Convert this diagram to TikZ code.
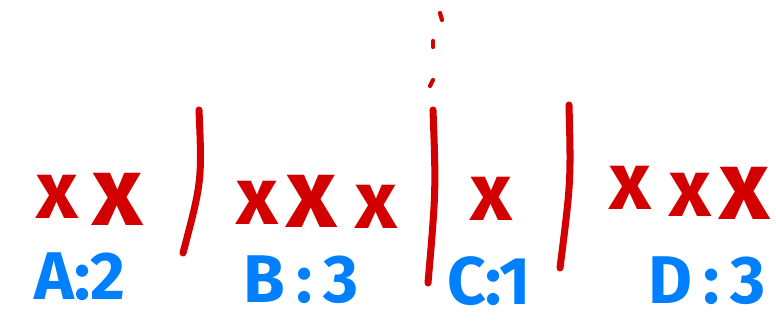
\documentclass[tikz,border=0pt]{standalone}
\usepackage{fontspec}
\setmainfont{Fira Sans}
\usepackage{tikz}
\definecolor{markRed}{RGB}{210,0,0}
\definecolor{countBlue}{RGB}{0,128,255}

\begin{document}
\begin{tikzpicture}[scale=2.5,
  xmark/.style={text=markRed, inner sep=0pt,
    font=\fontsize{58}{58}\selectfont\bfseries},
  bigx/.style={xmark, font=\fontsize{70}{70}\selectfont\bfseries},
  count/.style={text=countBlue, inner sep=0pt,
    font=\fontsize{48}{48}\selectfont\bfseries},
  divider/.style={draw=markRed, line width=5pt, line cap=round}]
\useasboundingbox (0,0) rectangle (7.76,3.21);
% bucket A
\node[xmark] (xa1) at (0.57,1.24) {x};
\node[bigx] (xa2) at (1.18,1.22) {x};
\node[count] (cntA) at (0.80,0.44) {A:2};
\draw[divider] (1.99,2.11) .. controls (2.02,1.40) .. (1.83,0.68);
% bucket B
\node[xmark] (xb1) at (2.57,1.18) {x};
\node[bigx] (xb2) at (3.12,1.20) {x};
\node[xmark] (xb3) at (3.76,1.14) {x};
\node[count] (cntB) at (3.01,0.41) {B\,:\,3};
\draw[divider] (4.33,2.11) .. controls (4.36,1.30) .. (4.28,0.38);
\draw[divider, line width=3pt] (4.40,3.08) -- (4.42,3.01);
\draw[divider, line width=3pt] (4.33,2.80) -- (4.33,2.74);
\draw[divider, line width=3pt] (4.30,2.35) -- (4.33,2.41);
% bucket C
\node[count] (cntC) at (4.89,0.40) {C:1};
\node[xmark] (xc1) at (4.91,1.22) {x};
\draw[divider] (5.69,2.16) .. controls (5.71,1.40) .. (5.60,0.53);
% bucket D
\node[xmark] (xd1) at (6.30,1.33) {x};
\node[xmark] (xd2) at (6.90,1.26) {x};
\node[bigx] (xd3) at (7.45,1.28) {x};
\node[count] (cntD) at (7.07,0.40) {D\,:\,3};
\end{tikzpicture}
\end{document}
